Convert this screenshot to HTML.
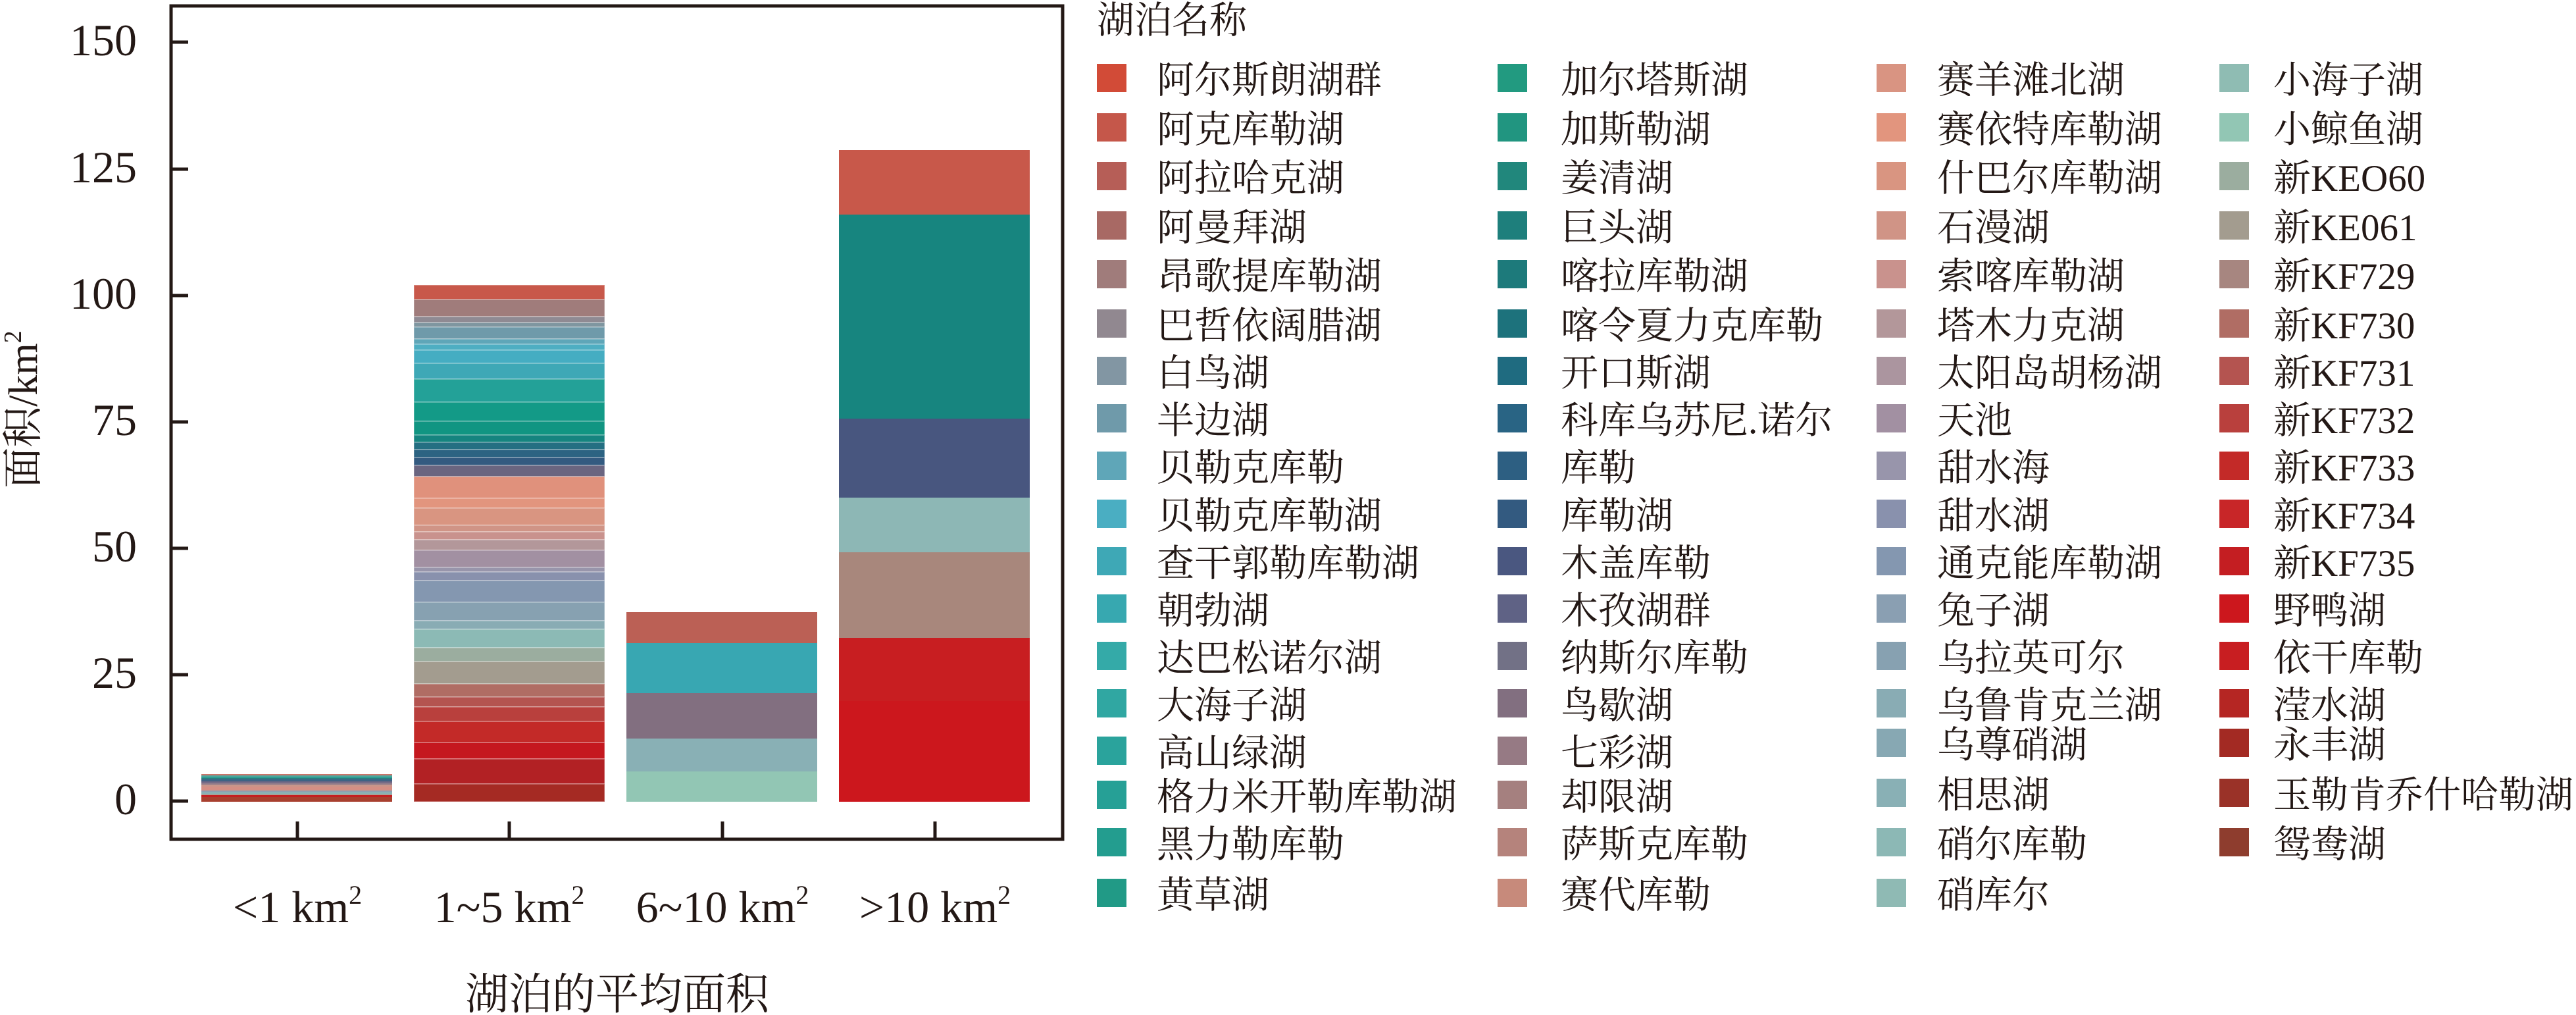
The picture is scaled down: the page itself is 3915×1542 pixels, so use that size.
<!DOCTYPE html>
<html><head><meta charset="utf-8"><style>
html,body{margin:0;padding:0;background:#fff;}
svg{display:block;}
.n{font-family:"Liberation Serif","Noto Serif CJK SC",serif;fill:#231815;}
.c{font-family:"Liberation Serif","Noto Serif CJK SC",serif;fill:#231815;}
</style></head><body>
<svg width="3915" height="1542" viewBox="0 0 3915 1542" xmlns="http://www.w3.org/2000/svg">
<rect width="3915" height="1542" fill="#fff"/>
<!-- bar 1 -->
<g>
<rect x="306" y="1176" width="290" height="3" fill="#c8756a"/>
<rect x="306" y="1178" width="290" height="3" fill="#4fa8a0"/>
<rect x="306" y="1180" width="290" height="3" fill="#2e9f92"/>
<rect x="306" y="1182" width="290" height="3" fill="#2b7c80"/>
<rect x="306" y="1184" width="290" height="4" fill="#3e6385"/>
<rect x="306" y="1187" width="290" height="3" fill="#6c6584"/>
<rect x="306" y="1189" width="290" height="4" fill="#8e7a8a"/>
<rect x="306" y="1192" width="290" height="4" fill="#c8968a"/>
<rect x="306" y="1195" width="290" height="7" fill="#d58f84"/>
<rect x="306" y="1201" width="290" height="3" fill="#8f9fb2"/>
<rect x="306" y="1203" width="290" height="4" fill="#8ab0b5"/>
<rect x="306" y="1206" width="290" height="3" fill="#a6a29a"/>
<rect x="306" y="1208" width="290" height="4" fill="#c41e22"/>
<rect x="306" y="1211" width="290" height="7" fill="#a8402f"/>
</g>
<!-- bar 2 -->
<g stroke="rgba(255,255,255,0.35)" stroke-width="1.5">
<rect x="629" y="433" width="290" height="22" fill="#c8584a"/>
<rect x="629" y="455" width="290" height="26" fill="#a07c7b"/>
<rect x="629" y="481" width="290" height="9" fill="#8f8a93"/>
<rect x="629" y="490" width="290" height="7" fill="#7f96a0"/>
<rect x="629" y="497" width="290" height="18" fill="#6f9aaa"/>
<rect x="629" y="515" width="290" height="8" fill="#5fa6b8"/>
<rect x="629" y="523" width="290" height="9" fill="#4eaec2"/>
<rect x="629" y="532" width="290" height="20" fill="#45adc2"/>
<rect x="629" y="552" width="290" height="24" fill="#3ea8b6"/>
<rect x="629" y="576" width="290" height="35" fill="#23a198"/>
<rect x="629" y="611" width="290" height="29" fill="#139a87"/>
<rect x="629" y="640" width="290" height="21" fill="#119582"/>
<rect x="629" y="661" width="290" height="11" fill="#15847f"/>
<rect x="629" y="672" width="290" height="11" fill="#246f82"/>
<rect x="629" y="683" width="290" height="12" fill="#2c6382"/>
<rect x="629" y="695" width="290" height="12" fill="#335a80"/>
<rect x="629" y="707" width="290" height="17" fill="#6a6580"/>
<rect x="629" y="724" width="290" height="33" fill="#e0917c"/>
<rect x="629" y="757" width="290" height="15" fill="#e2957e"/>
<rect x="629" y="772" width="290" height="26" fill="#d99581"/>
<rect x="629" y="798" width="290" height="10" fill="#d09486"/>
<rect x="629" y="808" width="290" height="12" fill="#c9928d"/>
<rect x="629" y="820" width="290" height="16" fill="#b3979a"/>
<rect x="629" y="836" width="290" height="26" fill="#a290a2"/>
<rect x="629" y="862" width="290" height="7" fill="#9895ab"/>
<rect x="629" y="869" width="290" height="13" fill="#8991ad"/>
<rect x="629" y="882" width="290" height="33" fill="#8497b0"/>
<rect x="629" y="915" width="290" height="28" fill="#87a1b1"/>
<rect x="629" y="943" width="290" height="13" fill="#89acb4"/>
<rect x="629" y="956" width="290" height="28" fill="#8cbab5"/>
<rect x="629" y="984" width="290" height="21" fill="#9bad9f"/>
<rect x="629" y="1005" width="290" height="34" fill="#a39c8f"/>
<rect x="629" y="1039" width="290" height="20" fill="#b06d64"/>
<rect x="629" y="1059" width="290" height="15" fill="#b45450"/>
<rect x="629" y="1074" width="290" height="22" fill="#b9403d"/>
<rect x="629" y="1096" width="290" height="32" fill="#c32a28"/>
<rect x="629" y="1128" width="290" height="25" fill="#c5181f"/>
<rect x="629" y="1153" width="290" height="38" fill="#b22124"/>
<rect x="629" y="1191" width="290" height="27" fill="#a52a23"/>
</g>
<!-- bar 3 -->
<rect x="952" y="930" width="290" height="47" fill="#bb6055"/>
<rect x="952" y="977" width="290" height="76" fill="#38a7b2"/>
<rect x="952" y="1053" width="290" height="69" fill="#826f80"/>
<rect x="952" y="1122" width="290" height="50" fill="#89b0b5"/>
<rect x="952" y="1172" width="290" height="46" fill="#92c6b4"/>
<!-- bar 4 -->
<rect x="1275" y="228" width="290" height="98" fill="#c8584a"/>
<rect x="1275" y="326" width="290" height="310" fill="#17857f"/>
<rect x="1275" y="636" width="290" height="120" fill="#48567f"/>
<rect x="1275" y="756" width="290" height="83" fill="#8db7b5"/>
<rect x="1275" y="839" width="290" height="130" fill="#a8877c"/>
<rect x="1275" y="969" width="290" height="96" fill="#c81e21"/>
<rect x="1275" y="1065" width="290" height="153" fill="#cc171d"/>
<!-- axes -->
<rect x="260" y="9" width="1355" height="1266" fill="none" stroke="#231815" stroke-width="5"/>
<g stroke="#231815" stroke-width="5">
<line x1="260" y1="64" x2="286" y2="64"/>
<line x1="260" y1="257" x2="286" y2="257"/>
<line x1="260" y1="449" x2="286" y2="449"/>
<line x1="260" y1="641" x2="286" y2="641"/>
<line x1="260" y1="833" x2="286" y2="833"/>
<line x1="260" y1="1025" x2="286" y2="1025"/>
<line x1="260" y1="1217" x2="286" y2="1217"/>
<line x1="452" y1="1275" x2="452" y2="1248"/>
<line x1="774" y1="1275" x2="774" y2="1248"/>
<line x1="1098" y1="1275" x2="1098" y2="1248"/>
<line x1="1421" y1="1275" x2="1421" y2="1248"/>
</g>
<g class="n" font-size="68" text-anchor="end">
<text x="208" y="84">150</text>
<text x="208" y="277">125</text>
<text x="208" y="469">100</text>
<text x="208" y="661">75</text>
<text x="208" y="853">50</text>
<text x="208" y="1045">25</text>
<text x="208" y="1237">0</text>
</g>
<g class="n" font-size="68" text-anchor="middle">
<text x="452" y="1401">&lt;1 km<tspan font-size="40" dy="-28">2</tspan></text>
<text x="774" y="1401">1~5 km<tspan font-size="40" dy="-28">2</tspan></text>
<text x="1098" y="1401">6~10 km<tspan font-size="40" dy="-28">2</tspan></text>
<text x="1421" y="1401">&gt;10 km<tspan font-size="40" dy="-28">2</tspan></text>
</g>
<text class="c" x="938" y="1533" font-size="66" text-anchor="middle">湖泊的平均面积</text>
<text class="c" transform="translate(56,622) rotate(-90)" font-size="62" text-anchor="middle">面积/km<tspan font-size="38" dy="-24">2</tspan></text>
<!-- legend -->
<text class="c" x="1667" y="50" font-size="57">湖泊名称</text>
<g class="c" font-size="57">
<!-- col1 -->
<rect x="1667" y="97" width="45" height="43" fill="#d24b37"/><text x="1758" y="141">阿尔斯朗湖群</text>
<rect x="1667" y="172" width="45" height="43" fill="#c5574a"/><text x="1758" y="216">阿克库勒湖</text>
<rect x="1667" y="246" width="45" height="43" fill="#b65e57"/><text x="1758" y="290">阿拉哈克湖</text>
<rect x="1667" y="321" width="45" height="43" fill="#a86964"/><text x="1758" y="365">阿曼拜湖</text>
<rect x="1667" y="395" width="45" height="43" fill="#a07c7b"/><text x="1758" y="439">昂歌提库勒湖</text>
<rect x="1667" y="470" width="45" height="43" fill="#918890"/><text x="1758" y="514">巴哲依阔腊湖</text>
<rect x="1667" y="542" width="45" height="43" fill="#8296a3"/><text x="1758" y="586">白鸟湖</text>
<rect x="1667" y="614" width="45" height="43" fill="#6f9aaa"/><text x="1758" y="658">半边湖</text>
<rect x="1667" y="686" width="45" height="43" fill="#5fa6b8"/><text x="1758" y="730">贝勒克库勒</text>
<rect x="1667" y="759" width="45" height="43" fill="#4aaec2"/><text x="1758" y="803">贝勒克库勒湖</text>
<rect x="1667" y="831" width="45" height="43" fill="#3ea8b6"/><text x="1758" y="875">查干郭勒库勒湖</text>
<rect x="1667" y="903" width="45" height="43" fill="#37a8b0"/><text x="1758" y="947">朝勃湖</text>
<rect x="1667" y="975" width="45" height="43" fill="#34aaa8"/><text x="1758" y="1019">达巴松诺尔湖</text>
<rect x="1667" y="1047" width="45" height="43" fill="#30a7a2"/><text x="1758" y="1091">大海子湖</text>
<rect x="1667" y="1119" width="45" height="43" fill="#2aa39c"/><text x="1758" y="1163">高山绿湖</text>
<rect x="1667" y="1186" width="45" height="43" fill="#26a096"/><text x="1758" y="1230">格力米开勒库勒湖</text>
<rect x="1667" y="1258" width="45" height="43" fill="#239d8f"/><text x="1758" y="1302">黑力勒库勒</text>
<rect x="1667" y="1335" width="45" height="43" fill="#219a86"/><text x="1758" y="1379">黄草湖</text>
<!-- col2 -->
<rect x="2276" y="97" width="45" height="43" fill="#229a80"/><text x="2372" y="141">加尔塔斯湖</text>
<rect x="2276" y="172" width="45" height="43" fill="#219580"/><text x="2372" y="216">加斯勒湖</text>
<rect x="2276" y="246" width="45" height="43" fill="#21877c"/><text x="2372" y="290">姜清湖</text>
<rect x="2276" y="321" width="45" height="43" fill="#1e7f7c"/><text x="2372" y="365">巨头湖</text>
<rect x="2276" y="395" width="45" height="43" fill="#1d7a7b"/><text x="2372" y="439">喀拉库勒湖</text>
<rect x="2276" y="470" width="45" height="43" fill="#1d727c"/><text x="2372" y="514">喀令夏力克库勒</text>
<rect x="2276" y="542" width="45" height="43" fill="#1f6b80"/><text x="2372" y="586">开口斯湖</text>
<rect x="2276" y="614" width="45" height="43" fill="#296484"/><text x="2372" y="658">科库乌苏尼.诺尔</text>
<rect x="2276" y="686" width="45" height="43" fill="#2d5f82"/><text x="2372" y="730">库勒</text>
<rect x="2276" y="759" width="45" height="43" fill="#335a80"/><text x="2372" y="803">库勒湖</text>
<rect x="2276" y="831" width="45" height="43" fill="#4a5780"/><text x="2372" y="875">木盖库勒</text>
<rect x="2276" y="903" width="45" height="43" fill="#5f6285"/><text x="2372" y="947">木孜湖群</text>
<rect x="2276" y="975" width="45" height="43" fill="#727186"/><text x="2372" y="1019">纳斯尔库勒</text>
<rect x="2276" y="1047" width="45" height="43" fill="#826f80"/><text x="2372" y="1091">鸟歇湖</text>
<rect x="2276" y="1119" width="45" height="43" fill="#967a84"/><text x="2372" y="1163">七彩湖</text>
<rect x="2276" y="1186" width="45" height="43" fill="#a5807f"/><text x="2372" y="1230">却限湖</text>
<rect x="2276" y="1258" width="45" height="43" fill="#b5837c"/><text x="2372" y="1302">萨斯克库勒</text>
<rect x="2276" y="1335" width="45" height="43" fill="#c78a7b"/><text x="2372" y="1379">赛代库勒</text>
<!-- col3 -->
<rect x="2852" y="97" width="45" height="43" fill="#d99482"/><text x="2944" y="141">赛羊滩北湖</text>
<rect x="2852" y="172" width="45" height="43" fill="#e2957e"/><text x="2944" y="216">赛依特库勒湖</text>
<rect x="2852" y="246" width="45" height="43" fill="#d99581"/><text x="2944" y="290">什巴尔库勒湖</text>
<rect x="2852" y="321" width="45" height="43" fill="#d09486"/><text x="2944" y="365">石漫湖</text>
<rect x="2852" y="395" width="45" height="43" fill="#c9928d"/><text x="2944" y="439">索喀库勒湖</text>
<rect x="2852" y="470" width="45" height="43" fill="#b3979a"/><text x="2944" y="514">塔木力克湖</text>
<rect x="2852" y="542" width="45" height="43" fill="#ab959f"/><text x="2944" y="586">太阳岛胡杨湖</text>
<rect x="2852" y="614" width="45" height="43" fill="#a290a2"/><text x="2944" y="658">天池</text>
<rect x="2852" y="686" width="45" height="43" fill="#9895ab"/><text x="2944" y="730">甜水海</text>
<rect x="2852" y="759" width="45" height="43" fill="#8991ad"/><text x="2944" y="803">甜水湖</text>
<rect x="2852" y="831" width="45" height="43" fill="#8497b0"/><text x="2944" y="875">通克能库勒湖</text>
<rect x="2852" y="903" width="45" height="43" fill="#8a9fb2"/><text x="2944" y="947">兔子湖</text>
<rect x="2852" y="975" width="45" height="43" fill="#87a1b1"/><text x="2944" y="1019">乌拉英可尔</text>
<rect x="2852" y="1047" width="45" height="43" fill="#89acb4"/><text x="2944" y="1091">乌鲁肯克兰湖</text>
<rect x="2852" y="1107" width="45" height="43" fill="#87a8b3"/><text x="2944" y="1151">乌尊硝湖</text>
<rect x="2852" y="1183" width="45" height="43" fill="#89b0b5"/><text x="2944" y="1227">相思湖</text>
<rect x="2852" y="1258" width="45" height="43" fill="#8cb8b5"/><text x="2944" y="1302">硝尔库勒</text>
<rect x="2852" y="1335" width="45" height="43" fill="#8fbab4"/><text x="2944" y="1379">硝库尔</text>
<!-- col4 -->
<rect x="3373" y="97" width="45" height="43" fill="#8fbcb3"/><text x="3455" y="141">小海子湖</text>
<rect x="3373" y="172" width="45" height="43" fill="#92c6b4"/><text x="3455" y="216">小鲸鱼湖</text>
<rect x="3373" y="246" width="45" height="43" fill="#9bad9f"/><text x="3455" y="290">新KEO60</text>
<rect x="3373" y="321" width="45" height="43" fill="#a39c8f"/><text x="3455" y="365">新KE061</text>
<rect x="3373" y="395" width="45" height="43" fill="#a78680"/><text x="3455" y="439">新KF729</text>
<rect x="3373" y="470" width="45" height="43" fill="#b06d64"/><text x="3455" y="514">新KF730</text>
<rect x="3373" y="542" width="45" height="43" fill="#b45450"/><text x="3455" y="586">新KF731</text>
<rect x="3373" y="614" width="45" height="43" fill="#b9403d"/><text x="3455" y="658">新KF732</text>
<rect x="3373" y="686" width="45" height="43" fill="#c32a28"/><text x="3455" y="730">新KF733</text>
<rect x="3373" y="759" width="45" height="43" fill="#c82628"/><text x="3455" y="803">新KF734</text>
<rect x="3373" y="831" width="45" height="43" fill="#c41e22"/><text x="3455" y="875">新KF735</text>
<rect x="3373" y="903" width="45" height="43" fill="#cc171d"/><text x="3455" y="947">野鸭湖</text>
<rect x="3373" y="975" width="45" height="43" fill="#c81e21"/><text x="3455" y="1019">依干库勒</text>
<rect x="3373" y="1047" width="45" height="43" fill="#b52623"/><text x="3455" y="1091">滢水湖</text>
<rect x="3373" y="1107" width="45" height="43" fill="#a32a23"/><text x="3455" y="1151">永丰湖</text>
<rect x="3373" y="1183" width="45" height="43" fill="#9a3228"/><text x="3455" y="1227">玉勒肯乔什哈勒湖</text>
<rect x="3373" y="1258" width="45" height="43" fill="#8e3d2e"/><text x="3455" y="1302">鸳鸯湖</text>
</g>
</svg>
</body></html>
